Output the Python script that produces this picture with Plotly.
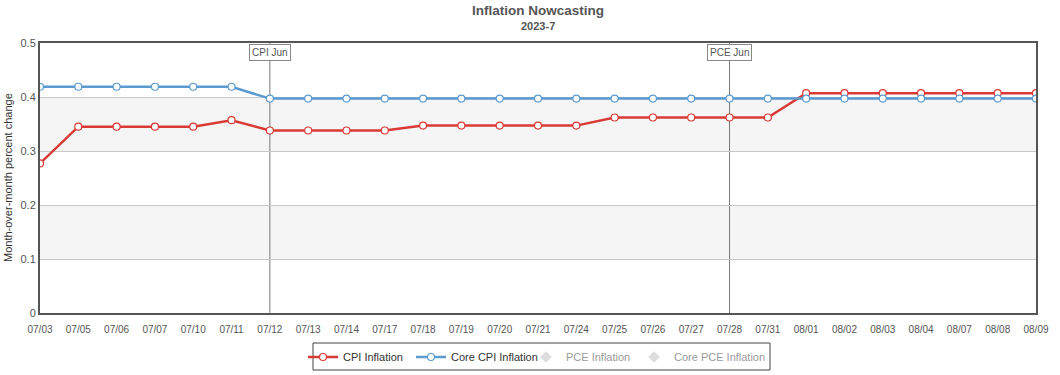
import plotly.graph_objects as go

dates = ["07/03", "07/05", "07/06", "07/07", "07/10", "07/11", "07/12", "07/13", "07/14",
         "07/17", "07/18", "07/19", "07/20", "07/21", "07/24", "07/25", "07/26", "07/27",
         "07/28", "07/31", "08/01", "08/02", "08/03", "08/04", "08/07", "08/08", "08/09"]
cpi = [0.277, 0.345, 0.345, 0.345, 0.345, 0.357, 0.338, 0.338, 0.338,
       0.338, 0.347, 0.347, 0.347, 0.347, 0.347, 0.362, 0.362, 0.362,
       0.362, 0.362, 0.407, 0.407, 0.407, 0.407, 0.407, 0.407, 0.407]
core_cpi = [0.419, 0.419, 0.419, 0.419, 0.419, 0.419, 0.397, 0.397, 0.397,
            0.397, 0.397, 0.397, 0.397, 0.397, 0.397, 0.397, 0.397, 0.397,
            0.397, 0.397, 0.397, 0.397, 0.397, 0.397, 0.397, 0.397, 0.397]
# PCE series are hidden (legend only) in the reference: no values shown
pce = [None] * len(dates)
core_pce = [None] * len(dates)
release_dates = ["07/12", "07/28"]
release_labels = ["CPI Jun", "PCE Jun"]
y_ticks = [0, 0.1, 0.2, 0.3, 0.4, 0.5]
bands = [(0.1, 0.2), (0.3, 0.4)]

RED = "#d93a36"
BLUE = "#5b9bd0"
FONT = "Liberation Sans, Arial, sans-serif"
W, H = 1060, 375

fig = go.Figure()

fig.add_trace(go.Scatter(
    x=dates, y=cpi, name="CPI Inflation", mode="lines+markers", legend="legend",
    line=dict(color=RED, width=2.5),
    marker=dict(symbol="circle", size=7, color="white", line=dict(color=RED, width=1.2)),
))
fig.add_trace(go.Scatter(
    x=dates, y=core_cpi, name="Core CPI Inflation", mode="lines+markers", legend="legend2",
    line=dict(color=BLUE, width=2.5),
    marker=dict(symbol="circle", size=7, color="white", line=dict(color=BLUE, width=1.2)),
))
fig.add_trace(go.Scatter(
    x=dates, y=pce, name="PCE Inflation", mode="markers", visible="legendonly", legend="legend3",
    marker=dict(symbol="diamond", size=9, color="#bbbbbb"),
))
fig.add_trace(go.Scatter(
    x=dates, y=core_pce, name="Core PCE Inflation", mode="markers", visible="legendonly",
    legend="legend4",
    marker=dict(symbol="diamond", size=9, color="#bbbbbb"),
))

for y0, y1 in bands:
    fig.add_shape(type="rect", xref="paper", yref="y", x0=0, x1=1, y0=y0, y1=y1,
                  fillcolor="#f5f5f5", line=dict(width=0), layer="below")

for d, lab in zip(release_dates, release_labels):
    fig.add_shape(type="line", xref="x", yref="paper", x0=d, x1=d, y0=0, y1=1,
                  line=dict(color="#777777", width=1), layer="below")
    fig.add_annotation(x=d, xref="x", y=1, yref="paper", yanchor="top", yshift=-1,
                       text=lab, showarrow=False, bgcolor="white",
                       bordercolor="#888888", borderwidth=1, borderpad=2,
                       font=dict(family=FONT, size=10, color="#555555"))

# titles
fig.add_annotation(text="<b>Inflation Nowcasting</b>", xref="paper", yref="paper",
                   x=0.5, y=1, yanchor="middle", yshift=33, showarrow=False,
                   font=dict(family=FONT, size=13.5, color="#555555"))
fig.add_annotation(text="<b>2023-7</b>", xref="paper", yref="paper",
                   x=0.5, y=1, yanchor="middle", yshift=17, showarrow=False,
                   font=dict(family=FONT, size=11, color="#555555"))
fig.add_annotation(text="Month-over-month percent change", xref="paper", yref="paper",
                   x=0, xshift=-32, xanchor="center", y=0.5, textangle=-90,
                   showarrow=False, font=dict(family=FONT, size=11, color="#333333"))

# legend frame
fig.add_shape(type="rect", xref="paper", yref="paper",
              x0=(313 - 40) / 996, x1=(770 - 40) / 996,
              y0=-(343 - 313) / 270, y1=-(370 - 313) / 270,
              line=dict(color="#444444", width=1), fillcolor="rgba(0,0,0,0)")

legend_common = dict(
    orientation="h", xref="container", yref="container", xanchor="left",
    yanchor="middle", y=1 - 357 / H, borderwidth=0, bgcolor="rgba(0,0,0,0)",
    font=dict(family=FONT, size=11, color="#333333"),
)

fig.update_layout(
    width=W, height=H,
    margin=dict(l=40, r=24, t=43, b=62),
    paper_bgcolor="white", plot_bgcolor="white",
    font=dict(family=FONT, size=11, color="#555555"),
    showlegend=True,
    legend=dict(x=303 / W, **legend_common),
    legend2=dict(x=411 / W, **legend_common),
    legend3=dict(x=526 / W, **legend_common),
    legend4=dict(x=634 / W, **legend_common),
    hovermode=False,
)

fig.update_xaxes(
    type="category", categoryorder="array", categoryarray=dates,
    range=[0, len(dates) - 1], automargin=False,
    showgrid=False, showline=True, mirror=True, linecolor="#555555", linewidth=2,
    ticks="outside", ticklen=6, tickcolor="rgba(0,0,0,0)",
    tickfont=dict(family=FONT, size=10, color="#555555"),
    zeroline=False,
)
fig.update_yaxes(
    range=[0, 0.5], tickvals=y_ticks, ticktext=[f"{v:g}" for v in y_ticks],
    automargin=False,
    showgrid=True, gridcolor="#c8c8c8", gridwidth=1,
    showline=True, mirror=True, linecolor="#555555", linewidth=2,
    ticks="", tickfont=dict(family=FONT, size=11, color="#555555"),
    zeroline=False,
)

fig.write_html("out.html", config={"displayModeBar": False},
               post_script="document.body.style.margin='0px';")
